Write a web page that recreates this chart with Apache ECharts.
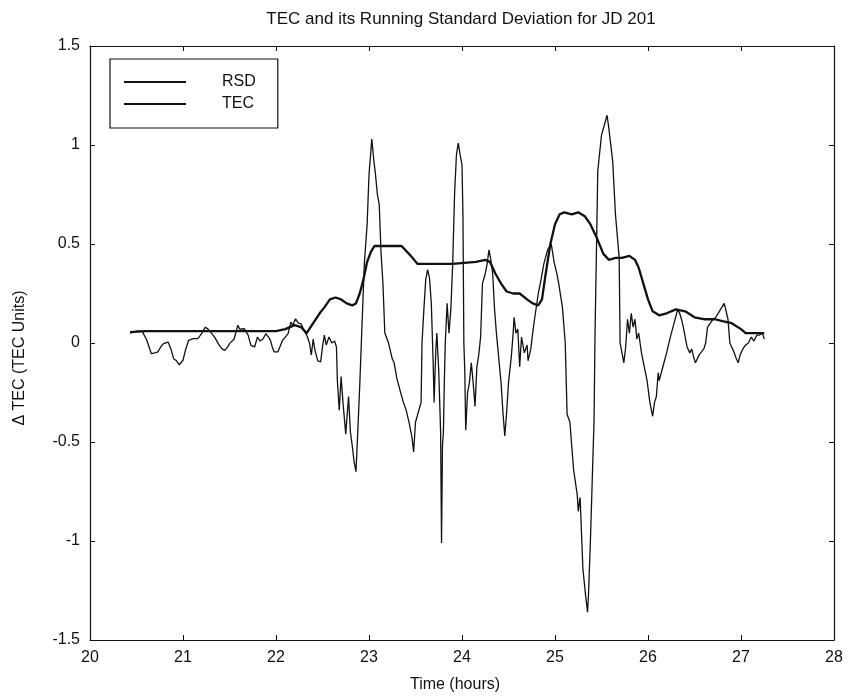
<!DOCTYPE html>
<html>
<head>
<meta charset="utf-8">
<script src="https://cdn.jsdelivr.net/npm/echarts@6/dist/echarts.min.js"></script>
<style>html,body{margin:0;padding:0;background:#fff;}#c{width:848px;height:698px;}</style>
</head>
<body>
<div id="c"></div>
<script>
const titleText = 'TEC and its Running Standard Deviation for JD 201';
const xLabel = 'Time (hours)';
const yLabel = '\u0394 TEC (TEC Units)';
const seriesNames = ['RSD', 'TEC'];

const tecTime = [20.43,20.50,20.56,20.61,20.66,20.70,20.73,20.76,20.79,20.84,20.87,20.90,20.93,20.96,20.98,21.00,21.03,21.06,21.11,21.16,21.20,21.24,21.27,21.29,21.34,21.39,21.42,21.45,21.48,21.50,21.55,21.59,21.61,21.63,21.66,21.70,21.73,21.77,21.80,21.83,21.86,21.89,21.92,21.94,21.96,21.98,22.02,22.05,22.07,22.10,22.13,22.16,22.18,22.21,22.24,22.27,22.30,22.33,22.36,22.38,22.40,22.42,22.45,22.48,22.50,22.52,22.54,22.57,22.60,22.63,22.65,22.66,22.68,22.70,22.72,22.75,22.78,22.80,22.82,22.84,22.86,22.88,22.90,22.92,22.95,22.98,23.00,23.03,23.05,23.07,23.09,23.11,23.13,23.15,23.17,23.21,23.25,23.27,23.30,23.34,23.37,23.40,23.43,23.46,23.48,23.50,23.53,23.56,23.57,23.59,23.61,23.63,23.65,23.67,23.69,23.70,23.71,23.72,23.73,23.74,23.75,23.77,23.78,23.79,23.80,23.81,23.82,23.84,23.86,23.88,23.90,23.92,23.94,23.96,23.98,24.00,24.01,24.02,24.03,24.04,24.06,24.08,24.10,24.12,24.14,24.16,24.18,24.20,24.22,24.25,24.27,24.29,24.31,24.33,24.35,24.37,24.39,24.42,24.44,24.46,24.48,24.50,24.53,24.55,24.56,24.58,24.60,24.62,24.64,24.67,24.70,24.71,24.74,24.76,24.78,24.82,24.85,24.88,24.92,24.96,24.99,25.02,25.04,25.08,25.11,25.13,25.16,25.20,25.24,25.25,25.27,25.30,25.33,25.35,25.36,25.38,25.40,25.42,25.43,25.46,25.50,25.53,25.56,25.58,25.62,25.65,25.69,25.70,25.72,25.74,25.76,25.78,25.80,25.82,25.84,25.86,25.88,25.90,25.93,25.96,25.99,26.02,26.05,26.07,26.09,26.11,26.12,26.16,26.20,26.24,26.28,26.32,26.34,26.36,26.38,26.40,26.42,26.45,26.47,26.49,26.51,26.53,26.55,26.57,26.60,26.62,26.64,26.67,26.70,26.73,26.75,26.78,26.82,26.84,26.86,26.88,26.90,26.92,26.95,26.97,26.99,27.02,27.05,27.08,27.11,27.14,27.17,27.20,27.23,27.25];
const tecValue = [0.05,0.06,0.06,0.015,-0.054,-0.05,-0.045,-0.02,-0.003,0.005,-0.03,-0.08,-0.09,-0.11,-0.12,-0.087,-0.03,0.013,0.022,0.022,0.047,0.08,0.07,0.064,0.03,-0.012,-0.03,-0.037,-0.02,-0.003,0.02,0.09,0.07,0.064,0.072,0.04,-0.012,-0.02,0.03,0.01,0.02,0.047,0.03,0.013,-0.02,-0.045,-0.045,-0.01,0.013,0.03,0.047,0.105,0.09,0.122,0.1,0.097,0.064,0.04,0.0,-0.06,0.02,-0.04,-0.09,-0.095,-0.02,0.04,-0.01,0.03,0.0,0.01,-0.02,-0.19,-0.34,-0.17,-0.3,-0.46,-0.27,-0.45,-0.52,-0.6,-0.65,-0.44,-0.22,0.03,0.4,0.6,0.85,1.03,0.93,0.85,0.75,0.7,0.45,0.3,0.05,0.0,-0.08,-0.1,-0.18,-0.25,-0.3,-0.34,-0.4,-0.47,-0.55,-0.4,-0.35,-0.3,0.0,0.17,0.32,0.37,0.33,0.2,-0.1,-0.3,-0.15,-0.02,0.05,-0.05,-0.14,-0.45,-1.01,-0.52,-0.45,-0.2,0.0,0.2,0.05,0.17,0.4,0.75,0.95,1.01,0.95,0.9,0.65,0.0,-0.14,-0.44,-0.25,-0.2,-0.1,-0.2,-0.32,-0.12,-0.06,0.03,0.3,0.35,0.4,0.47,0.42,0.35,0.17,0.05,-0.05,-0.2,-0.35,-0.47,-0.35,-0.2,-0.07,0.05,0.13,0.05,0.07,-0.12,0.03,-0.05,-0.01,-0.09,-0.03,0.05,0.12,0.25,0.32,0.4,0.47,0.5,0.41,0.35,0.3,0.18,0.0,-0.36,-0.4,-0.64,-0.77,-0.85,-0.78,-1.14,-1.28,-1.36,-1.27,-1.01,-0.7,-0.39,0.03,0.87,1.05,1.1,1.15,1.08,0.92,0.65,0.43,0.0,-0.05,-0.1,-0.02,0.12,0.05,0.15,0.08,0.12,0.02,0.05,-0.05,-0.12,-0.19,-0.3,-0.37,-0.3,-0.27,-0.15,-0.19,-0.12,-0.05,0.03,0.1,0.17,0.15,0.12,0.08,0.03,-0.02,-0.05,-0.03,-0.07,-0.1,-0.11,-0.06,-0.06,-0.03,0.0,0.08,0.1,0.12,0.13,0.14,0.17,0.2,0.21,0.12,0.0,-0.02,-0.04,-0.08,-0.1,-0.06,-0.03,-0.01,0.0,0.03,0.01,0.04,0.04,0.05,0.02];

const rsdTime = [20.43,20.60,21.00,21.50,22.00,22.10,22.20,22.27,22.33,22.40,22.47,22.52,22.58,22.64,22.70,22.76,22.82,22.86,22.90,22.94,22.98,23.02,23.06,23.35,23.45,23.52,23.90,24.15,24.25,24.30,24.36,24.42,24.48,24.55,24.62,24.70,24.76,24.82,24.86,24.90,24.95,25.00,25.05,25.10,25.18,25.25,25.32,25.38,25.45,25.52,25.58,25.65,25.72,25.80,25.86,25.90,25.95,26.00,26.05,26.12,26.20,26.30,26.40,26.50,26.60,26.72,26.80,26.90,27.00,27.05,27.15,27.25];
const rsdValue = [0.055,0.06,0.06,0.06,0.06,0.07,0.09,0.08,0.05,0.1,0.15,0.18,0.22,0.23,0.22,0.2,0.19,0.2,0.25,0.32,0.41,0.46,0.49,0.49,0.44,0.40,0.40,0.41,0.42,0.41,0.35,0.3,0.26,0.25,0.25,0.22,0.2,0.19,0.22,0.35,0.5,0.6,0.65,0.66,0.65,0.66,0.64,0.6,0.53,0.45,0.42,0.43,0.43,0.44,0.42,0.38,0.3,0.22,0.16,0.14,0.15,0.17,0.16,0.13,0.12,0.12,0.11,0.1,0.07,0.05,0.05,0.05];

const xTicks = [20,21,22,23,24,25,26,27,28];
const yTicks = [-1.5,-1,-0.5,0,0.5,1,1.5];

const FONT = 'Liberation Sans, Arial, sans-serif';
const ink = '#111';
const axisCommon = {
  axisLine: { show: true, onZero: false, lineStyle: { color: ink, width: 1.2 } },
  axisTick: { show: true, inside: true, length: 5, lineStyle: { color: ink } },
  splitLine: { show: false }
};

const chart = echarts.init(document.getElementById('c'), null, { renderer: 'canvas' });
chart.setOption({
  backgroundColor: '#fff',
  animation: false,
  title: {
    text: titleText, left: 456, top: 6, textAlign: 'center',
    textStyle: { fontFamily: FONT, fontSize: 17, fontWeight: 'normal', color: ink }
  },
  legend: {
    data: seriesNames, orient: 'vertical', left: 110, top: 59,
    icon: 'rect', itemWidth: 62, itemHeight: 2, itemGap: 6,
    backgroundColor: '#fff', borderColor: ink, borderWidth: 1.2,
    padding: [15, 22, 16, 14],
    textStyle: { fontFamily: FONT, fontSize: 16, lineHeight: 16, color: ink, padding: [0, 0, 0, 31] }
  },
  grid: { left: 90, right: 14, top: 46, bottom: 58, containLabel: false },
  xAxis: [
    Object.assign({}, axisCommon, {
      type: 'value', min: xTicks[0], max: xTicks[xTicks.length - 1], interval: 1, position: 'bottom',
      name: xLabel, nameLocation: 'middle', nameGap: 37,
      nameTextStyle: { fontFamily: FONT, fontSize: 16, color: ink, padding: [0, 14, 0, 0] },
      axisLabel: { fontFamily: FONT, fontSize: 16, color: ink, margin: 10 }
    }),
    Object.assign({}, axisCommon, {
      type: 'value', min: xTicks[0], max: xTicks[xTicks.length - 1], interval: 1, position: 'top',
      axisLabel: { show: false }
    })
  ],
  yAxis: [
    Object.assign({}, axisCommon, {
      type: 'value', min: yTicks[0], max: yTicks[yTicks.length - 1], interval: 0.5, position: 'left',
      name: yLabel, nameLocation: 'middle', nameGap: 62,
      nameTextStyle: { fontFamily: FONT, fontSize: 16, color: ink, padding: [0, 30, 0, 0] },
      axisLabel: { fontFamily: FONT, fontSize: 16, color: ink, margin: 10,
        formatter: v => String(v) }
    }),
    Object.assign({}, axisCommon, {
      type: 'value', min: yTicks[0], max: yTicks[yTicks.length - 1], interval: 0.5, position: 'right',
      axisLabel: { show: false }
    })
  ],
  series: [
    {
      name: seriesNames[0], type: 'line', symbol: 'none', z: 3,
      data: rsdTime.map((t, i) => [t, rsdValue[i]]),
      lineStyle: { color: ink, width: 2.3 }, itemStyle: { color: ink }
    },
    {
      name: seriesNames[1], type: 'line', symbol: 'none', z: 2,
      data: tecTime.map((t, i) => [t, tecValue[i]]),
      lineStyle: { color: ink, width: 1.3 }, itemStyle: { color: ink }
    }
  ]
});
</script>
</body>
</html>
